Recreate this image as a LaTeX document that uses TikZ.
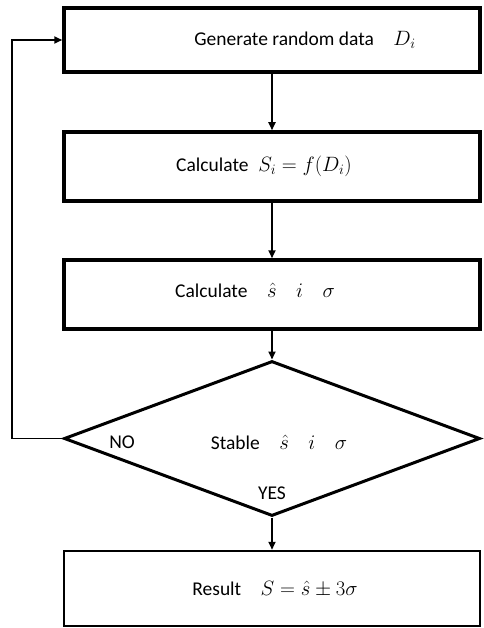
\documentclass[tikz,border=0pt]{standalone}
\usepackage{fontspec}
\setmainfont{Carlito}
\usetikzlibrary{shapes.geometric,arrows.meta}
\begin{document}
\begin{tikzpicture}[x=1pt,y=-1pt,
  box/.style={draw=black,line width=3.5pt,rectangle,minimum width=416pt,inner sep=0pt,fill=white},
  txt/.style={font=\fontsize{19.5}{23}\selectfont,inner sep=0pt,anchor=center},
  conn/.style={draw=black,line width=1.8pt,-{Triangle[length=8pt,width=7pt]}}]
\useasboundingbox (0,0) rectangle (483,628);
\node[box,minimum height=64pt] (b1) at (272,40) {};
\node[box,minimum height=69pt] (b2) at (272,166.5) {};
\node[box,minimum height=69pt] (b3) at (272,294.5) {};
\node[draw=black,line width=3pt,diamond,aspect=2.68,minimum width=416pt,minimum height=155pt,inner sep=0pt] (d) at (272,438.5) {};
\node[box,line width=2.5pt,minimum height=75pt] (b4) at (272,588.5) {};
\node[txt] (t1) at (305,40) {Generate random data\quad $D_i$};
\node[txt] (t2) at (264,166) {Calculate\; $S_i=f(D_i)$};
\node[txt] (t3) at (255,290) {Calculate\quad $\hat{s}\quad i\quad \sigma$};
\node[txt] (t4) at (279,442) {Stable\quad $\hat{s}\quad i\quad \sigma$};
\node[txt] (no) at (122,442) {NO};
\node[txt] (yes) at (272,493) {YES};
\node[txt] (t5) at (275,589) {Result\quad $S=\hat{s}\pm 3\sigma$};
\coordinate (c1) at (12,438.5);
\coordinate (c2) at (12,40);
\draw[conn] (b1.south) -- (b2.north);
\draw[conn] (b2.south) -- (b3.north);
\draw[conn] (b3.south) -- (d.north);
\draw[conn] (d.south) -- (b4.north);
\draw[conn] (d.west) -- (c1) -- (c2) -- (b1.west);
\end{tikzpicture}
\end{document}
